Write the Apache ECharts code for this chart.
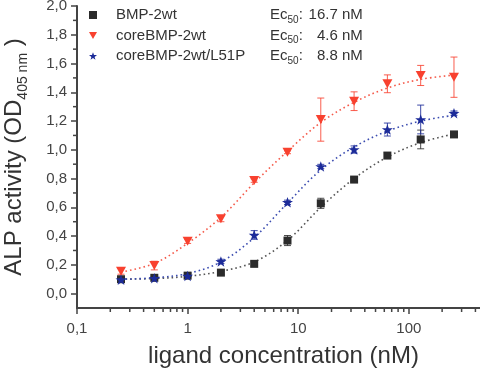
<!DOCTYPE html>
<html><head><meta charset="utf-8">
<script src="https://cdn.jsdelivr.net/npm/echarts@6/dist/echarts.min.js"></script>
<style>html,body{margin:0;padding:0;background:#fff}#c{width:480px;height:372px}</style>
</head><body><div id="c"></div>
<script>
// ---- data ----
const concentrations = [0.25, 0.5, 1, 2, 4, 8, 16, 32, 64, 128, 256];
const bmp2wt      = [0.100, 0.110, 0.125, 0.146, 0.207, 0.369, 0.628, 0.793, 0.960, 1.072, 1.107];
const bmp2wtErr   = [0.010, 0.010, 0.010, 0.012, 0.015, 0.035, 0.035, 0.015, 0.020, 0.065, 0.015];
const coreWt      = [0.155, 0.195, 0.364, 0.520, 0.786, 0.983, 1.210, 1.338, 1.459, 1.517, 1.505];
const coreWtErr   = [0.020, 0.030, 0.015, 0.020, 0.012, 0.010, 0.150, 0.065, 0.062, 0.070, 0.140];
const coreL51P    = [0.097, 0.107, 0.123, 0.224, 0.408, 0.635, 0.884, 1.002, 1.141, 1.211, 1.255];
const coreL51PErr = [0.012, 0.010, 0.012, 0.015, 0.030, 0.015, 0.015, 0.025, 0.045, 0.100, 0.015];
// dotted fit curves at the same concentrations
const fitBmp2wt   = [0.100, 0.105, 0.120, 0.155, 0.220, 0.370, 0.600, 0.800, 0.950, 1.050, 1.110];
const fitCoreWt   = [0.150, 0.210, 0.350, 0.530, 0.770, 0.990, 1.190, 1.330, 1.430, 1.490, 1.520];
const fitCoreL51P = [0.100, 0.110, 0.140, 0.220, 0.390, 0.630, 0.860, 1.020, 1.130, 1.200, 1.240];
const seriesNames = ['BMP-2wt', 'coreBMP-2wt', 'coreBMP-2wt/L51P'];
const ec50Labels  = ['16.7 nM', '4.6 nM', '8.8 nM'];
const yTickValues  = [0, 0.2, 0.4, 0.6, 0.8, 1.0, 1.2, 1.4, 1.6, 1.8, 2.0];
const yMinorValues = [0.1, 0.3, 0.5, 0.7, 0.9, 1.1, 1.3, 1.5, 1.7, 1.9];
const xMinorValues = [0.2,0.3,0.4,0.5,0.6,0.7,0.8,0.9, 2,3,4,5,6,7,8,9, 20,30,40,50,60,70,80,90, 200,300,400];
const xMin = 0.1, xMax = 440, yMin = -0.1, yMax = 2.0;

// ---- styling ----
const FONT = 'Liberation Sans, Arial, Helvetica, sans-serif';
const colors = ['#2b2b2b', '#f8412f', '#1c2b99'];
const fitColors = ['#555555', '#f55a4a', '#3b4cb0'];
const TRI = 'path://M0,0L10,0L5,9Z';
const STAR = 'path://M10,0L12.4,6.8L19.5,6.9L13.8,11.2L15.9,18.1L10,14L4.1,18.1L6.2,11.2L0.5,6.9L7.6,6.8Z';
const symbols = ['rect', TRI, STAR];
const symbolSizes = [8, 10, 11];
const values = [bmp2wt, coreWt, coreL51P];
const errs = [bmp2wtErr, coreWtErr, coreL51PErr];
const fits = [fitBmp2wt, fitCoreWt, fitCoreL51P];

function fmtX(v) {
  return String(parseFloat(Number(v).toPrecision(6))).replace('.', ',');
}
function fmtY(v) {
  return Number(v).toFixed(1).replace('.', ',');
}

const series = [];
fits.forEach((f, i) => {
  series.push({
    type: 'line', name: 'fit' + i, data: concentrations.map((c, k) => [c, f[k]]),
    showSymbol: false, symbol: 'none', smooth: 0.35, silent: true, z: 1,
    lineStyle: { color: fitColors[i], width: 1.6, type: [1.6, 3] }
  });
});
values.forEach((vals, i) => {
  series.push({
    type: 'custom', name: 'err' + i, z: 2, silent: true, clip: false,
    data: concentrations.map((c, k) => [c, vals[k] - errs[i][k], vals[k] + errs[i][k]]),
    encode: { x: 0, y: [1, 2] },
    renderItem: (params, api) => {
      const p1 = api.coord([api.value(0), api.value(1)]);
      const p2 = api.coord([api.value(0), api.value(2)]);
      const w = 3.5, st = { stroke: colors[i], lineWidth: 1, opacity: 0.85 };
      return { type: 'group', children: [
        { type: 'line', shape: { x1: p1[0], y1: p1[1], x2: p2[0], y2: p2[1] }, style: st },
        { type: 'line', shape: { x1: p1[0] - w, y1: p1[1], x2: p1[0] + w, y2: p1[1] }, style: st },
        { type: 'line', shape: { x1: p2[0] - w, y1: p2[1], x2: p2[0] + w, y2: p2[1] }, style: st }
      ]};
    }
  });
});
values.forEach((vals, i) => {
  series.push({
    type: 'scatter', name: seriesNames[i], z: 3 + i,
    data: concentrations.map((c, k) => [c, vals[k]]),
    symbol: symbols[i], symbolSize: symbolSizes[i], symbolKeepAspect: true,
    itemStyle: { color: colors[i], opacity: 1 }
  });
});
series.push({
  type: 'custom', name: 'xMinor', silent: true, clip: false, z: 5,
  data: xMinorValues.map(v => [v, yMin]), encode: { x: 0, y: 1 },
  renderItem: (params, api) => {
    const p = api.coord([api.value(0), api.value(1)]);
    return { type: 'line', shape: { x1: p[0], y1: p[1], x2: p[0], y2: p[1] + 4 },
      style: { stroke: '#444', lineWidth: 1.5 } };
  }
});
series.push({
  type: 'custom', name: 'yMinor', silent: true, clip: false, z: 5,
  data: yMinorValues.map(v => [xMin, v]), encode: { x: 0, y: 1 },
  renderItem: (params, api) => {
    const p = api.coord([api.value(0), api.value(1)]);
    return { type: 'line', shape: { x1: p[0] - 4, y1: p[1], x2: p[0], y2: p[1] },
      style: { stroke: '#444', lineWidth: 1.5 } };
  }
});

const chart = echarts.init(document.getElementById('c'));
chart.setOption({
  animation: false,
  backgroundColor: '#fff',
  textStyle: { fontFamily: FONT },
  grid: { left: 77, right: 0, top: 6, bottom: 64, containLabel: false, outerBoundsMode: 'none' },
  legend: {
    orient: 'vertical', left: 89, top: 7.5, padding: 0, itemGap: 3,
    itemWidth: 8, itemHeight: 8,
    data: seriesNames.map((n, i) => ({ name: n, icon: symbols[i] })),
    formatter: name => {
      const i = seriesNames.indexOf(name);
      return '{g| }{n|' + name + '}{e|Ec}{s|50}{e|:}{v|' + ec50Labels[i] + '}';
    },
    textStyle: {
      fontFamily: FONT, color: '#333',
      rich: {
        g: { width: 14, lineHeight: 20, fontSize: 15 },
        n: { width: 154, lineHeight: 20, fontSize: 15, color: '#333', fontFamily: FONT },
        e: { lineHeight: 20, fontSize: 15, color: '#333', fontFamily: FONT },
        s: { lineHeight: 9, fontSize: 10, verticalAlign: 'bottom', color: '#333', fontFamily: FONT },
        v: { width: 60, align: 'right', lineHeight: 20, fontSize: 15, color: '#333', fontFamily: FONT }
      }
    }
  },
  xAxis: {
    type: 'log', logBase: 10, min: xMin, max: xMax,
    name: 'ligand concentration (nM)', nameLocation: 'middle', nameGap: 36,
    nameTextStyle: { fontSize: 24, color: '#333', fontFamily: FONT, padding: [0, 0, 0, 10] },
    axisLine: { onZero: false, lineStyle: { color: '#444', width: 2 } },
    axisTick: { show: true, inside: false, length: 6, lineStyle: { color: '#444', width: 1.5 } },
    axisLabel: {
      margin: 13, fontSize: 15, color: '#444', fontFamily: FONT, showMaxLabel: false,
      formatter: v => {
        const l = Math.log10(v);
        return Math.abs(l - Math.round(l)) < 1e-6 ? fmtX(v) : '';
      }
    },
    splitLine: { show: false }, minorTick: { show: false }
  },
  yAxis: {
    type: 'value', min: yMin, max: yMax,
    name: '{m|ALP activity (OD}{s|405 nm}{m| )}', nameLocation: 'middle', nameGap: 47, nameRotate: 90,
    nameTextStyle: {
      color: '#333', fontFamily: FONT,
      rich: {
        m: { fontSize: 24, lineHeight: 32, color: '#333', fontFamily: FONT },
        s: { fontSize: 14, lineHeight: 14, verticalAlign: 'bottom', color: '#333', fontFamily: FONT }
      }
    },
    axisLine: { onZero: false, lineStyle: { color: '#444', width: 2 } },
    axisTick: { show: true, length: 6, customValues: yTickValues, lineStyle: { color: '#444', width: 1.5 } },
    axisLabel: { margin: 10, fontSize: 15, color: '#444', fontFamily: FONT, customValues: yTickValues,
      formatter: v => fmtY(v) },
    splitLine: { show: false }
  },
  series: series
});
</script>
</body></html>
